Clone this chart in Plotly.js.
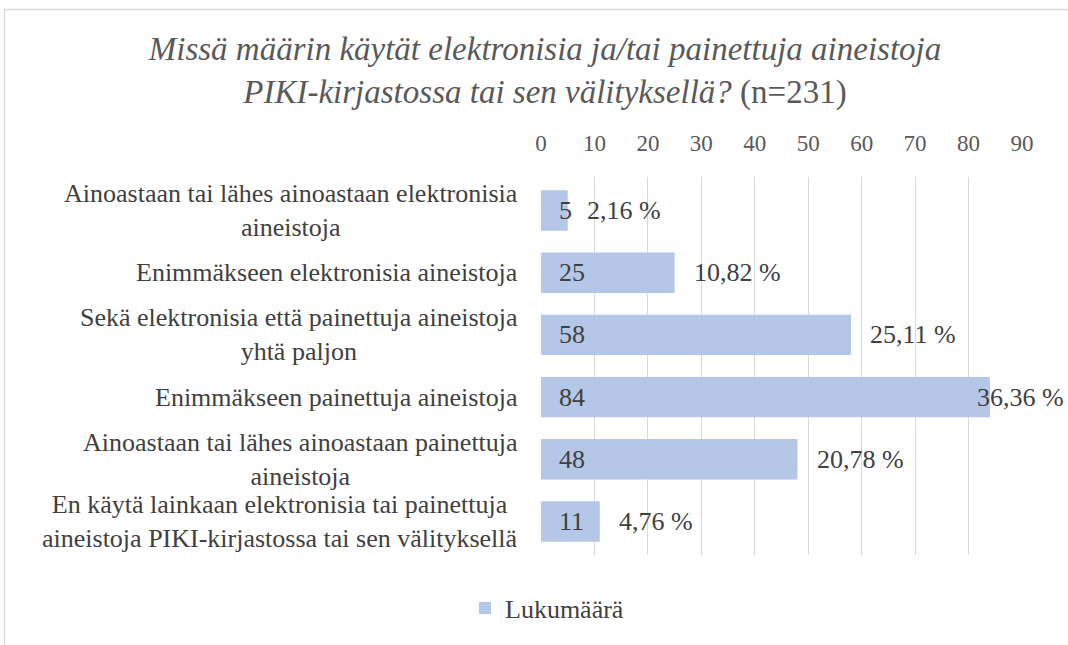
<!DOCTYPE html>
<html>
<head>
<meta charset="utf-8">
<script src="https://cdn.plot.ly/plotly-3.0.1.min.js"></script>
<style>
html,body{margin:0;padding:0;background:#fff;}
#chart{width:1068px;height:645px;}
</style>
</head>
<body>
<div id="chart"></div>
<script>
// ---- data ----
var categories = [
  "Ainoastaan tai lähes ainoastaan elektronisia<br>aineistoja",
  "Enimmäkseen elektronisia aineistoja",
  "Sekä elektronisia että painettuja aineistoja<br>yhtä paljon",
  "Enimmäkseen painettuja aineistoja",
  "Ainoastaan tai lähes ainoastaan painettuja<br>aineistoja",
  "En käytä lainkaan elektronisia tai painettuja<br>aineistoja PIKI-kirjastossa tai sen välityksellä"
];
var counts = [5, 25, 58, 84, 48, 11];
var percentLabels = ["2,16 %", "10,82 %", "25,11 %", "36,36 %", "20,78 %", "4,76 %"];
var xTickValues = [0, 10, 20, 30, 40, 50, 60, 70, 80, 90];
var seriesName = "Lukumäärä";
var titleLine1 = "Missä määrin käytät elektronisia ja/tai painettuja aineistoja";
var titleLine2 = "PIKI-kirjastossa tai sen välityksellä?";
var titleSuffix = "(n=231)";

// ---- geometry / style ----
var W = 1068, H = 645;
var M = {l: 541, r: 46, t: 177, b: 90};
var plotW = W - M.l - M.r, plotH = H - M.t - M.b;
var xMax = 90;
var pxPerUnit = plotW / xMax;
var FONT = "'Liberation Serif'";
var labelSize = 26, dataSize = 26;
var textColor = "#404040", tickColor = "#595959";
var barColor = "#b4c7e7", gridColor = "#d9d9d9";

var canvas = document.createElement("canvas");
var ctx = canvas.getContext("2d");
function textWidth(t, size) {
  ctx.font = size + "px 'Liberation Serif'";
  return ctx.measureText(t).width;
}

var annotations = [];
// category labels: one text block per category, lines centred, block right-aligned
categories.forEach(function (cat) {
  annotations.push({
    xref: "x", yref: "y", x: 0, y: cat,
    xanchor: "right", yanchor: "middle", align: "center",
    xshift: -21,
    text: cat, showarrow: false,
    font: {family: FONT, size: labelSize, color: textColor}
  });
});
counts.forEach(function (v, i) {
  annotations.push({
    xref: "x", yref: "y", x: 0, y: categories[i],
    xanchor: "left", yanchor: "middle", xshift: 16,
    text: String(v), showarrow: false,
    font: {family: FONT, size: dataSize, color: textColor}
  });
});
percentLabels.forEach(function (p, i) {
  var w = textWidth(p, dataSize);
  var barEnd = M.l + counts[i] * pxPerUnit;
  var shift = 17;
  if (barEnd + shift + w > W - 2) shift = (W - 2 - w) - barEnd - 4;
  annotations.push({
    xref: "x", yref: "y", x: counts[i], y: categories[i],
    xanchor: "left", yanchor: "middle", xshift: shift,
    text: p, showarrow: false,
    font: {family: FONT, size: dataSize, color: textColor}
  });
});

function px2x(px) { return (px - M.l) / plotW; }
function px2y(py) { return (H - M.b - py) / plotH; }

var trace = {
  type: "bar", orientation: "h",
  x: counts, y: categories, name: seriesName,
  marker: {color: barColor},
  hoverinfo: "x+y"
};

var layout = {
  width: W, height: H,
  margin: M,
  paper_bgcolor: "#fff", plot_bgcolor: "#fff",
  bargap: 0.35,
  showlegend: true,
  title: {
    text: "<i>" + titleLine1 + "</i><br><i>" + titleLine2 + "</i> " + titleSuffix,
    font: {family: FONT, size: 33, color: tickColor},
    xref: "container", x: 545 / W, xanchor: "center",
    yref: "container", y: 1 - 60 / H, yanchor: "top"
  },
  xaxis: {
    side: "top", range: [0, xMax], tickvals: xTickValues,
    showgrid: true, gridcolor: gridColor, gridwidth: 1.3,
    zeroline: false, showline: false, ticks: "",
    ticklabelstandoff: 20,
    tickfont: {family: FONT, size: 23, color: tickColor},
    fixedrange: true
  },
  yaxis: {
    type: "category", autorange: "reversed",
    showticklabels: false, showgrid: false, zeroline: false, showline: false,
    fixedrange: true
  },
  legend: {
    orientation: "h",
    xref: "container", x: 547 / W, xanchor: "center",
    yref: "container", y: 1 - 608 / H, yanchor: "middle",
    font: {family: FONT, size: 26, color: textColor}
  },
  annotations: annotations,
  shapes: [
    {type: "line", xref: "paper", yref: "paper", x0: px2x(4), x1: px2x(W + 2), y0: px2y(9.5), y1: px2y(9.5),
     line: {color: gridColor, width: 1.5}},
    {type: "line", xref: "paper", yref: "paper", x0: px2x(4.5), x1: px2x(4.5), y0: px2y(9), y1: px2y(H + 2),
     line: {color: gridColor, width: 1.5}}
  ]
};

Plotly.newPlot("chart", [trace], layout, {displayModeBar: false});
</script>
</body>
</html>
